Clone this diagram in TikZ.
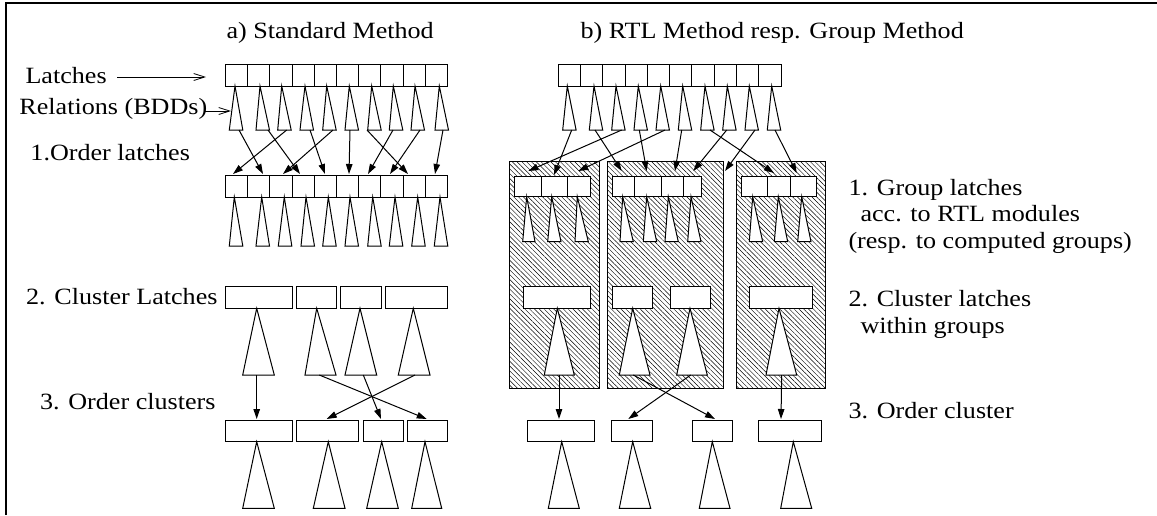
\documentclass[tikz,border=0pt]{standalone}
\usepackage{fontspec}
\setmainfont{Liberation Serif}[FakeStretch=1.12]
\usetikzlibrary{arrows.meta,patterns.meta}

\begin{document}
\begin{tikzpicture}[x=1pt,y=-1pt,line width=1pt,
  lbl/.style={font=\fontsize{23.3}{27}\selectfont,inner sep=0pt,anchor=base west},
  lblr/.style={lbl,anchor=base east},
  cell/.style={draw,fill=white},
  bdd/.style={draw,fill=white,line join=miter},
  flow/.style={-{Triangle[length=10pt,width=6.5pt]}},
  pointer/.style={-{Straight Barb[length=11pt,width=7pt]},line width=0.8pt},
  group/.style={draw,pattern={Lines[angle=-45,distance=3.4pt,line width=0.45pt]}},
  frame/.style={line width=2.5pt}]
\useasboundingbox (0,0) rectangle (1157,515);

% frame (left and top edges only)
\draw[frame] (6.2,515) -- (6.2,2.8) -- (1157,2.8);

% ---------- headings and labels ----------
\node[lbl] (heada) at (226,38) {a) Standard Method};
\node[lbl] (headb) at (580,38) {b) RTL Method resp. Group Method};
\node[lbl] (latlbl) at (25,83) {Latches};
\node[lbl] (rellbl) at (19,114) {Relations (BDDs)};
\node[lbl] (ordlbl) at (30,160) {1.Order latches};
\node[lblr] (clulbl) at (218,304) {2. Cluster Latches};
\node[lblr] (occlbl) at (216,409) {3. Order clusters};
\node[lbl] (grp1) at (848,195) {1. Group latches};
\node[lbl] (grp2) at (860,221) {acc. to RTL modules};
\node[lbl] (grp3) at (848,248) {(resp. to computed groups)};
\node[lbl] (cl1) at (848,306) {2. Cluster latches};
\node[lbl] (cl2) at (860,333) {within groups};
\node[lbl] (oc1) at (848,418) {3. Order cluster};

% ---------- a) standard method ----------
% latch rows with ten cells each
\foreach \y in {64,175}{
  \draw[cell] (225.5,\y) rectangle (447.5,\y+22);
  \foreach \i in {1,...,9} \draw (225.5+22.2*\i,\y) -- ++(0,22);
}
% relations below the first row
\foreach \a/\l in {235/229.3,260/256,281.7/277.7,305/300,326.7/322.7,349.3/345,371.7/367.7,393.3/389.3,415/411,439.3/435}
  \draw[bdd] (\a,86) -- (\l,130) -- ++(13.5,0) -- cycle;
% relations below the ordered row
\foreach \a/\l in {234.3/229.3,261.7/256,284.3/278.3,306/301,328.3/322.7,350/345,372.7/367.7,395/389.3,417.7/411.7,440/434.3}
  \draw[bdd] (\a,197) -- (\l,246) -- ++(13.5,0) -- cycle;
% reordering of the latches
\foreach \s/\t [count=\k] in {239/263,286.7/233,268/300,333/283,310/325,350/349,393/368,367/408,420/390,443/435}{
  \coordinate (as\k) at (\s,130);
  \coordinate (at\k) at (\t,174);
  \draw[flow] (as\k) -- (at\k);
}
% clusters
\foreach \l/\r in {225/292.3,296/336.7,340.7/381,385/447.7}
  \draw[cell] (\l,286) rectangle (\r,308.3);
\foreach \a/\l/\r in {256.7/242.7/274.3,316.7/305/336,360/345/376.7,413.3/398.3/430}
  \draw[bdd] (\a,308.3) -- (\l,375) -- (\r,375) -- cycle;
% ordered clusters
\foreach \l/\r in {225/292.3,296/358.3,363.3/403.3,407.7/447.7}
  \draw[cell] (\l,420) rectangle (\r,441.7);
\foreach \a/\l/\r in {256.7/242.7/274.3,328.3/313.3/345,381.7/366.7/398.3,425/411.7/441.7}
  \draw[bdd] (\a,441.7) -- (\l,508.3) -- (\r,508.3) -- cycle;
\foreach \s/\t [count=\k] in {256.7/256.7,319.3/426.7,363.3/381,415/326.7}{
  \coordinate (cs\k) at (\s,375);
  \coordinate (ct\k) at (\t,419);
  \draw[flow] (cs\k) -- (ct\k);
}
% pointers from the labels
\coordinate (latA) at (117,77);
\coordinate (latB) at (206,77);
\draw[pointer] (latA) -- (latB);
\coordinate (relA) at (204,111);
\coordinate (relB) at (231,111);
\draw[pointer] (relA) -- (relB);

% ---------- b) RTL method / group method ----------
% hatched groups
\draw[group] (509.5,161.7) rectangle (599.3,388.3);
\draw[group] (607.3,161.7) rectangle (723.3,388.3);
\draw[group] (736,161.7) rectangle (825,388.3);

% latch row
\draw[cell] (558.3,64) rectangle (781,86);
\foreach \i in {1,...,9} \draw (558.3+22.27*\i,64) -- ++(0,22);
\foreach \a/\l in {567.3/562.7,594/589.3,616/611.7,638.3/634,660.7/656,682.7/678.3,705/700.7,727.3/722.7,749.3/745,771.7/767.3}
  \draw[bdd] (\a,86) -- (\l,130) -- ++(13.4,0) -- cycle;

% latch rows inside the groups
\draw[cell] (514.3,176) rectangle (590,196.7);
\foreach \x in {541,567.7} \draw (\x,176) -- (\x,196.7);
\draw[cell] (612.3,176) rectangle (701,196.7);
\foreach \x in {634.3,661,683.3} \draw (\x,176) -- (\x,196.7);
\draw[cell] (741,176) rectangle (816,196.7);
\foreach \x in {767.7,790} \draw (\x,176) -- (\x,196.7);
\foreach \a/\l/\r in {526.7/522.7/535,551.7/547.7/561,577.3/575/588.3,622.7/620/633.3,646.7/643.3/656.7,668.3/665/678.3,691/687.7/701,752.7/749.3/762.7,778.3/774.3/787.7,801.7/797.7/811}
  \draw[bdd] (\a,196.7) -- (\l,241.7) -- (\r,241.7) -- cycle;

% assignment of latches to groups
\foreach \s/\t/\e [count=\k] in {571.7/554/175,621.7/528.3/171,665/578.3/171,595/621.7/171,639.3/646.7/171,681.7/675/171,710/774/173,726.7/693.3/171,755/725/171,775/796.7/173}{
  \coordinate (bs\k) at (\s,130);
  \coordinate (bt\k) at (\t,\e);
  \draw[flow] (bs\k) -- (bt\k);
}

% clusters within groups
\foreach \l/\r in {523.3/590,612.3/652.3,670/710,749.3/812.3}
  \draw[cell] (\l,286.7) rectangle (\r,308.3);
\foreach \a/\l/\r in {557.3/544.3/574.3,632.7/619.3/650,690/676.7/707.3,779/766/796.7}
  \draw[bdd] (\a,308.3) -- (\l,375) -- (\r,375) -- cycle;

% ordered clusters
\foreach \l/\r in {527.3/594.3,611.7/652.3,692/732.3,758.3/821}
  \draw[cell] (\l,420) rectangle (\r,441.7);
\foreach \a/\l/\r in {561.7/548.3/579.3,632.7/619.3/650.7,712.3/699.3/730,793.3/780.7/811.7}
  \draw[bdd] (\a,441.7) -- (\l,508.3) -- (\r,508.3) -- cycle;
\foreach \s/\t [count=\k] in {559/559,633.3/715,690.7/628.3,781.7/781}{
  \coordinate (ds\k) at (\s,375);
  \coordinate (dt\k) at (\t,419);
  \draw[flow] (ds\k) -- (dt\k);
}
\end{tikzpicture}
\end{document}
